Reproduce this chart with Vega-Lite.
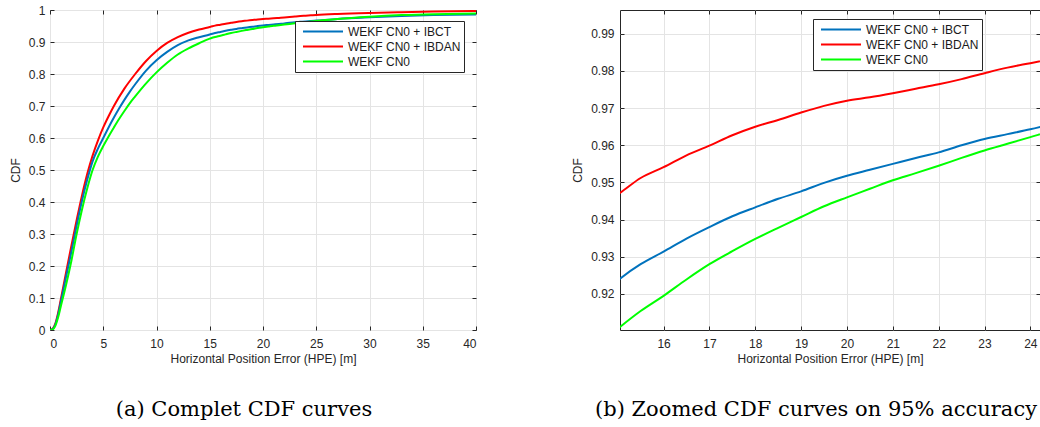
{
  "$schema": "https://vega.github.io/schema/vega-lite/v6.json",
  "padding": {"left": 8, "top": 3, "right": 0, "bottom": 0},
  "background": "white",
  "spacing": 94,
  "config": {
    "font": "Liberation Sans",
    "view": {"stroke": "#262626", "strokeWidth": 1},
    "axis": {
      "labelFont": "Liberation Sans", "labelFontSize": 12, "labelColor": "#262626",
      "titleFont": "Liberation Sans", "titleFontSize": 12, "titleColor": "#262626", "titleFontWeight": "normal",
      "domain": false, "tickColor": "#262626", "tickSize": -4, "gridColor": "#e4e4e4", "gridWidth": 1
    },
    "legend": {
      "orient": "none", "title": null, "fillColor": "white", "strokeColor": "#262626", "padding": 3,
      "symbolType": "stroke", "symbolSize": 1600, "symbolStrokeWidth": 2, "symbolOffset": 4, "clipHeight": 15, "rowPadding": 0,
      "labelOffset": 4, "labelFontSize": 12, "labelFont": "Liberation Sans", "labelColor": "#1a1a1a", "cornerRadius": 0
    },
    "title": {"font": "DejaVu Serif", "fontSize": 21, "fontWeight": "normal", "color": "black", "orient": "bottom", "frame": "group"}
  },
  "datasets": {
    "cdf": [
      {"hpe": 0, "cdf": 0, "method": "WEKF CN0 + IBDAN"},
      {"hpe": 0.25, "cdf": 0.004, "method": "WEKF CN0 + IBDAN"},
      {"hpe": 0.5, "cdf": 0.02, "method": "WEKF CN0 + IBDAN"},
      {"hpe": 0.75, "cdf": 0.052, "method": "WEKF CN0 + IBDAN"},
      {"hpe": 1, "cdf": 0.093, "method": "WEKF CN0 + IBDAN"},
      {"hpe": 1.5, "cdf": 0.178, "method": "WEKF CN0 + IBDAN"},
      {"hpe": 2, "cdf": 0.262, "method": "WEKF CN0 + IBDAN"},
      {"hpe": 2.5, "cdf": 0.343, "method": "WEKF CN0 + IBDAN"},
      {"hpe": 3, "cdf": 0.42, "method": "WEKF CN0 + IBDAN"},
      {"hpe": 3.5, "cdf": 0.488, "method": "WEKF CN0 + IBDAN"},
      {"hpe": 4, "cdf": 0.545, "method": "WEKF CN0 + IBDAN"},
      {"hpe": 4.5, "cdf": 0.592, "method": "WEKF CN0 + IBDAN"},
      {"hpe": 5, "cdf": 0.633, "method": "WEKF CN0 + IBDAN"},
      {"hpe": 5.5, "cdf": 0.668, "method": "WEKF CN0 + IBDAN"},
      {"hpe": 6, "cdf": 0.7, "method": "WEKF CN0 + IBDAN"},
      {"hpe": 7, "cdf": 0.755, "method": "WEKF CN0 + IBDAN"},
      {"hpe": 8, "cdf": 0.8, "method": "WEKF CN0 + IBDAN"},
      {"hpe": 9, "cdf": 0.84, "method": "WEKF CN0 + IBDAN"},
      {"hpe": 10, "cdf": 0.872, "method": "WEKF CN0 + IBDAN"},
      {"hpe": 11, "cdf": 0.897, "method": "WEKF CN0 + IBDAN"},
      {"hpe": 12, "cdf": 0.915, "method": "WEKF CN0 + IBDAN"},
      {"hpe": 13, "cdf": 0.929, "method": "WEKF CN0 + IBDAN"},
      {"hpe": 14, "cdf": 0.939, "method": "WEKF CN0 + IBDAN"},
      {"hpe": 15, "cdf": 0.9468, "method": "WEKF CN0 + IBDAN"},
      {"hpe": 15.05, "cdf": 0.9472, "method": "WEKF CN0 + IBDAN"},
      {"hpe": 15.5, "cdf": 0.9512, "method": "WEKF CN0 + IBDAN"},
      {"hpe": 16, "cdf": 0.9541, "method": "WEKF CN0 + IBDAN"},
      {"hpe": 16.5, "cdf": 0.9573, "method": "WEKF CN0 + IBDAN"},
      {"hpe": 17, "cdf": 0.9599, "method": "WEKF CN0 + IBDAN"},
      {"hpe": 17.5, "cdf": 0.9627, "method": "WEKF CN0 + IBDAN"},
      {"hpe": 18, "cdf": 0.965, "method": "WEKF CN0 + IBDAN"},
      {"hpe": 18.5, "cdf": 0.9668, "method": "WEKF CN0 + IBDAN"},
      {"hpe": 19, "cdf": 0.9688, "method": "WEKF CN0 + IBDAN"},
      {"hpe": 19.5, "cdf": 0.9706, "method": "WEKF CN0 + IBDAN"},
      {"hpe": 20, "cdf": 0.972, "method": "WEKF CN0 + IBDAN"},
      {"hpe": 20.5, "cdf": 0.9729, "method": "WEKF CN0 + IBDAN"},
      {"hpe": 21, "cdf": 0.974, "method": "WEKF CN0 + IBDAN"},
      {"hpe": 21.5, "cdf": 0.9752, "method": "WEKF CN0 + IBDAN"},
      {"hpe": 22, "cdf": 0.9764, "method": "WEKF CN0 + IBDAN"},
      {"hpe": 22.5, "cdf": 0.9778, "method": "WEKF CN0 + IBDAN"},
      {"hpe": 23, "cdf": 0.9794, "method": "WEKF CN0 + IBDAN"},
      {"hpe": 23.5, "cdf": 0.9809, "method": "WEKF CN0 + IBDAN"},
      {"hpe": 24, "cdf": 0.9821, "method": "WEKF CN0 + IBDAN"},
      {"hpe": 24.5, "cdf": 0.9833, "method": "WEKF CN0 + IBDAN"},
      {"hpe": 25, "cdf": 0.9845, "method": "WEKF CN0 + IBDAN"},
      {"hpe": 27, "cdf": 0.9878, "method": "WEKF CN0 + IBDAN"},
      {"hpe": 30, "cdf": 0.991, "method": "WEKF CN0 + IBDAN"},
      {"hpe": 33, "cdf": 0.9932, "method": "WEKF CN0 + IBDAN"},
      {"hpe": 36, "cdf": 0.995, "method": "WEKF CN0 + IBDAN"},
      {"hpe": 40, "cdf": 0.997, "method": "WEKF CN0 + IBDAN"},

      {"hpe": 0, "cdf": 0, "method": "WEKF CN0 + IBCT"},
      {"hpe": 0.25, "cdf": 0.003, "method": "WEKF CN0 + IBCT"},
      {"hpe": 0.5, "cdf": 0.017, "method": "WEKF CN0 + IBCT"},
      {"hpe": 0.75, "cdf": 0.046, "method": "WEKF CN0 + IBCT"},
      {"hpe": 1, "cdf": 0.085, "method": "WEKF CN0 + IBCT"},
      {"hpe": 1.5, "cdf": 0.165, "method": "WEKF CN0 + IBCT"},
      {"hpe": 2, "cdf": 0.243, "method": "WEKF CN0 + IBCT"},
      {"hpe": 2.5, "cdf": 0.326, "method": "WEKF CN0 + IBCT"},
      {"hpe": 3, "cdf": 0.403, "method": "WEKF CN0 + IBCT"},
      {"hpe": 3.5, "cdf": 0.47, "method": "WEKF CN0 + IBCT"},
      {"hpe": 4, "cdf": 0.527, "method": "WEKF CN0 + IBCT"},
      {"hpe": 4.5, "cdf": 0.567, "method": "WEKF CN0 + IBCT"},
      {"hpe": 5, "cdf": 0.6, "method": "WEKF CN0 + IBCT"},
      {"hpe": 5.5, "cdf": 0.633, "method": "WEKF CN0 + IBCT"},
      {"hpe": 6, "cdf": 0.664, "method": "WEKF CN0 + IBCT"},
      {"hpe": 6.5, "cdf": 0.693, "method": "WEKF CN0 + IBCT"},
      {"hpe": 7, "cdf": 0.72, "method": "WEKF CN0 + IBCT"},
      {"hpe": 7.5, "cdf": 0.745, "method": "WEKF CN0 + IBCT"},
      {"hpe": 8, "cdf": 0.768, "method": "WEKF CN0 + IBCT"},
      {"hpe": 9, "cdf": 0.81, "method": "WEKF CN0 + IBCT"},
      {"hpe": 10, "cdf": 0.843, "method": "WEKF CN0 + IBCT"},
      {"hpe": 11, "cdf": 0.869, "method": "WEKF CN0 + IBCT"},
      {"hpe": 12, "cdf": 0.89, "method": "WEKF CN0 + IBCT"},
      {"hpe": 13, "cdf": 0.905, "method": "WEKF CN0 + IBCT"},
      {"hpe": 14, "cdf": 0.915, "method": "WEKF CN0 + IBCT"},
      {"hpe": 15, "cdf": 0.9236, "method": "WEKF CN0 + IBCT"},
      {"hpe": 15.05, "cdf": 0.9241, "method": "WEKF CN0 + IBCT"},
      {"hpe": 15.5, "cdf": 0.928, "method": "WEKF CN0 + IBCT"},
      {"hpe": 16, "cdf": 0.9314, "method": "WEKF CN0 + IBCT"},
      {"hpe": 16.5, "cdf": 0.9349, "method": "WEKF CN0 + IBCT"},
      {"hpe": 17, "cdf": 0.938, "method": "WEKF CN0 + IBCT"},
      {"hpe": 17.5, "cdf": 0.9409, "method": "WEKF CN0 + IBCT"},
      {"hpe": 18, "cdf": 0.9433, "method": "WEKF CN0 + IBCT"},
      {"hpe": 18.5, "cdf": 0.9456, "method": "WEKF CN0 + IBCT"},
      {"hpe": 19, "cdf": 0.9476, "method": "WEKF CN0 + IBCT"},
      {"hpe": 19.5, "cdf": 0.9499, "method": "WEKF CN0 + IBCT"},
      {"hpe": 20, "cdf": 0.9518, "method": "WEKF CN0 + IBCT"},
      {"hpe": 20.5, "cdf": 0.9534, "method": "WEKF CN0 + IBCT"},
      {"hpe": 21, "cdf": 0.955, "method": "WEKF CN0 + IBCT"},
      {"hpe": 21.5, "cdf": 0.9566, "method": "WEKF CN0 + IBCT"},
      {"hpe": 22, "cdf": 0.9581, "method": "WEKF CN0 + IBCT"},
      {"hpe": 22.5, "cdf": 0.96, "method": "WEKF CN0 + IBCT"},
      {"hpe": 23, "cdf": 0.9617, "method": "WEKF CN0 + IBCT"},
      {"hpe": 23.5, "cdf": 0.963, "method": "WEKF CN0 + IBCT"},
      {"hpe": 24, "cdf": 0.9643, "method": "WEKF CN0 + IBCT"},
      {"hpe": 24.5, "cdf": 0.9658, "method": "WEKF CN0 + IBCT"},
      {"hpe": 25, "cdf": 0.967, "method": "WEKF CN0 + IBCT"},
      {"hpe": 27, "cdf": 0.972, "method": "WEKF CN0 + IBCT"},
      {"hpe": 30, "cdf": 0.977, "method": "WEKF CN0 + IBCT"},
      {"hpe": 33, "cdf": 0.981, "method": "WEKF CN0 + IBCT"},
      {"hpe": 36, "cdf": 0.984, "method": "WEKF CN0 + IBCT"},
      {"hpe": 40, "cdf": 0.986, "method": "WEKF CN0 + IBCT"},

      {"hpe": 0, "cdf": 0, "method": "WEKF CN0"},
      {"hpe": 0.25, "cdf": 0.002, "method": "WEKF CN0"},
      {"hpe": 0.5, "cdf": 0.013, "method": "WEKF CN0"},
      {"hpe": 0.75, "cdf": 0.038, "method": "WEKF CN0"},
      {"hpe": 1, "cdf": 0.072, "method": "WEKF CN0"},
      {"hpe": 1.5, "cdf": 0.14, "method": "WEKF CN0"},
      {"hpe": 2, "cdf": 0.215, "method": "WEKF CN0"},
      {"hpe": 2.5, "cdf": 0.3, "method": "WEKF CN0"},
      {"hpe": 3, "cdf": 0.376, "method": "WEKF CN0"},
      {"hpe": 3.5, "cdf": 0.443, "method": "WEKF CN0"},
      {"hpe": 4, "cdf": 0.5, "method": "WEKF CN0"},
      {"hpe": 4.5, "cdf": 0.542, "method": "WEKF CN0"},
      {"hpe": 5, "cdf": 0.575, "method": "WEKF CN0"},
      {"hpe": 5.5, "cdf": 0.605, "method": "WEKF CN0"},
      {"hpe": 6, "cdf": 0.633, "method": "WEKF CN0"},
      {"hpe": 6.5, "cdf": 0.66, "method": "WEKF CN0"},
      {"hpe": 7, "cdf": 0.685, "method": "WEKF CN0"},
      {"hpe": 7.5, "cdf": 0.709, "method": "WEKF CN0"},
      {"hpe": 8, "cdf": 0.73, "method": "WEKF CN0"},
      {"hpe": 9, "cdf": 0.77, "method": "WEKF CN0"},
      {"hpe": 10, "cdf": 0.805, "method": "WEKF CN0"},
      {"hpe": 11, "cdf": 0.835, "method": "WEKF CN0"},
      {"hpe": 12, "cdf": 0.861, "method": "WEKF CN0"},
      {"hpe": 13, "cdf": 0.88, "method": "WEKF CN0"},
      {"hpe": 14, "cdf": 0.896, "method": "WEKF CN0"},
      {"hpe": 15, "cdf": 0.9106, "method": "WEKF CN0"},
      {"hpe": 15.05, "cdf": 0.9111, "method": "WEKF CN0"},
      {"hpe": 15.5, "cdf": 0.9154, "method": "WEKF CN0"},
      {"hpe": 16, "cdf": 0.9195, "method": "WEKF CN0"},
      {"hpe": 16.5, "cdf": 0.9239, "method": "WEKF CN0"},
      {"hpe": 17, "cdf": 0.928, "method": "WEKF CN0"},
      {"hpe": 17.5, "cdf": 0.9315, "method": "WEKF CN0"},
      {"hpe": 18, "cdf": 0.9348, "method": "WEKF CN0"},
      {"hpe": 18.5, "cdf": 0.9378, "method": "WEKF CN0"},
      {"hpe": 19, "cdf": 0.9407, "method": "WEKF CN0"},
      {"hpe": 19.5, "cdf": 0.9436, "method": "WEKF CN0"},
      {"hpe": 20, "cdf": 0.946, "method": "WEKF CN0"},
      {"hpe": 20.5, "cdf": 0.9483, "method": "WEKF CN0"},
      {"hpe": 21, "cdf": 0.9506, "method": "WEKF CN0"},
      {"hpe": 21.5, "cdf": 0.9525, "method": "WEKF CN0"},
      {"hpe": 22, "cdf": 0.9545, "method": "WEKF CN0"},
      {"hpe": 22.5, "cdf": 0.9566, "method": "WEKF CN0"},
      {"hpe": 23, "cdf": 0.9586, "method": "WEKF CN0"},
      {"hpe": 23.5, "cdf": 0.9604, "method": "WEKF CN0"},
      {"hpe": 24, "cdf": 0.9622, "method": "WEKF CN0"},
      {"hpe": 24.5, "cdf": 0.964, "method": "WEKF CN0"},
      {"hpe": 25, "cdf": 0.9655, "method": "WEKF CN0"},
      {"hpe": 27, "cdf": 0.972, "method": "WEKF CN0"},
      {"hpe": 30, "cdf": 0.979, "method": "WEKF CN0"},
      {"hpe": 33, "cdf": 0.984, "method": "WEKF CN0"},
      {"hpe": 36, "cdf": 0.987, "method": "WEKF CN0"},
      {"hpe": 40, "cdf": 0.989, "method": "WEKF CN0"}
    ]
  },
  "hconcat": [
    {
      "width": 426,
      "height": 320,
      "title": {"text": "(a) Complet CDF curves", "dx": -19, "offset": 35},
      "data": {"name": "cdf"},
      "layer": [
        {
          "mark": {"type": "line", "strokeWidth": 2, "interpolate": "monotone", "clip": true},
          "encoding": {
            "x": {"field": "hpe", "type": "quantitative",
                  "scale": {"domain": [0, 40], "nice": false, "zero": false},
                  "axis": {"orient": "bottom", "values": [0,5,10,15,20,25,30,35,40], "format": "d", "labelPadding": 12, "title": "Horizontal Position Error (HPE) [m]", "titlePadding": 4, "grid": true}},
            "y": {"field": "cdf", "type": "quantitative",
                  "scale": {"domain": [0, 1], "nice": false},
                  "axis": {"orient": "left", "values": [0,0.1,0.2,0.3,0.4,0.5,0.6,0.7,0.8,0.9,1], "format": "~g", "labelPadding": 9, "title": "CDF", "titlePadding": 6, "grid": true}},
            "color": {"field": "method", "type": "nominal",
                      "scale": {"domain": ["WEKF CN0 + IBCT", "WEKF CN0 + IBDAN", "WEKF CN0"], "range": ["#0072BD", "#FF0000", "#00FF00"]},
                      "legend": {"legendX": 245, "legendY": 11}}
          }
        },
        {
          "mark": {"type": "line", "strokeOpacity": 0},
          "encoding": {
            "x": {"field": "hpe", "type": "quantitative",
                  "axis": {"orient": "top", "values": [0,5,10,15,20,25,30,35,40], "labels": false, "title": null, "grid": false}},
            "y": {"field": "cdf", "type": "quantitative",
                  "axis": {"orient": "right", "values": [0,0.1,0.2,0.3,0.4,0.5,0.6,0.7,0.8,0.9,1], "labels": false, "title": null, "grid": false}},
            "detail": {"field": "method"}
          }
        }
      ],
      "resolve": {"axis": {"x": "independent", "y": "independent"}}
    },
    {
      "width": 420,
      "height": 320,
      "title": {"text": "(b) Zoomed CDF curves on 95% accuracy", "anchor": "start", "dx": -25, "offset": 35},
      "data": {"name": "cdf"},
      "layer": [
        {
          "mark": {"type": "line", "strokeWidth": 2, "interpolate": "monotone", "clip": true},
          "encoding": {
            "x": {"field": "hpe", "type": "quantitative",
                  "scale": {"domain": [15.05, 24.21], "nice": false, "zero": false},
                  "axis": {"orient": "bottom", "values": [16,17,18,19,20,21,22,23,24], "format": "d", "labelPadding": 12, "title": "Horizontal Position Error (HPE) [m]", "titlePadding": 4, "grid": true}},
            "y": {"field": "cdf", "type": "quantitative",
                  "scale": {"domain": [0.9103, 0.9964], "nice": false, "zero": false},
                  "axis": {"orient": "left", "values": [0.92,0.93,0.94,0.95,0.96,0.97,0.98,0.99], "format": ".2f", "labelPadding": 10, "title": "CDF", "titlePadding": 6, "grid": true}},
            "color": {"field": "method", "type": "nominal",
                      "scale": {"domain": ["WEKF CN0 + IBCT", "WEKF CN0 + IBDAN", "WEKF CN0"], "range": ["#0072BD", "#FF0000", "#00FF00"]},
                      "legend": {"legendX": 193, "legendY": 9}}
          }
        },
        {
          "mark": {"type": "line", "strokeOpacity": 0, "clip": true},
          "encoding": {
            "x": {"field": "hpe", "type": "quantitative",
                  "axis": {"orient": "top", "values": [16,17,18,19,20,21,22,23,24], "labels": false, "title": null, "grid": false}},
            "y": {"field": "cdf", "type": "quantitative",
                  "axis": {"orient": "right", "values": [0.92,0.93,0.94,0.95,0.96,0.97,0.98,0.99], "labels": false, "title": null, "grid": false}},
            "detail": {"field": "method"}
          }
        }
      ],
      "resolve": {"axis": {"x": "independent", "y": "independent"}}
    }
  ],
  "resolve": {"scale": {"color": "independent"}, "legend": {"color": "independent"}}
}
